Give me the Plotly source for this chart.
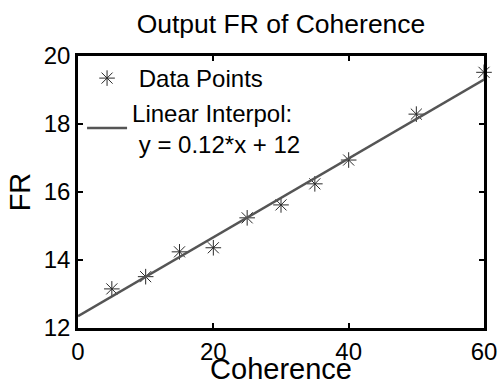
import plotly.graph_objects as go

coherence = [5, 10, 15, 20, 25, 30, 35, 40, 50, 60]
fr = [13.15, 13.51, 14.24, 14.36, 15.24, 15.62, 16.24, 16.94, 18.29, 19.52]
fit_x = [0, 60]
fit_y = [12.35, 19.31]

FONT = "Liberation Sans, Arial, Helvetica, sans-serif"
NB = "\u00a0"

fig = go.Figure()
fig.add_trace(go.Scatter(
    x=coherence, y=fr, mode="markers", name=NB + "Data Points",
    cliponaxis=False,
    marker=dict(symbol="asterisk-open", size=13, color="#2a2a2a",
                line=dict(color="#2a2a2a", width=1)),
))
fig.add_trace(go.Scatter(
    x=fit_x, y=fit_y, mode="lines",
    name="Linear Interpol:<br>" + NB + "y = 0.12*x + 12",
    line=dict(color="#555555", width=2.5),
))

axis_common = dict(
    showline=True, linecolor="black", linewidth=2.5, mirror="ticks",
    ticks="inside", ticklen=5, tickwidth=1.5, tickcolor="black",
    showgrid=False, zeroline=False, automargin=False,
    tickfont=dict(family=FONT, size=24, color="black"),
)

fig.update_layout(
    width=501, height=385,
    margin=dict(l=78, r=17, t=56, b=57),
    paper_bgcolor="white", plot_bgcolor="white",
    title=dict(text="Output FR of Coherence", xref="paper", x=0.5, xanchor="center",
               yref="container", y=0.938, yanchor="middle",
               font=dict(family=FONT, size=26.5, color="black")),
    xaxis=dict(range=[0, 60], tickvals=[0, 20, 40, 60],
               title=dict(text="Coherence", standoff=1,
                          font=dict(family=FONT, size=29, color="black")),
               **axis_common),
    yaxis=dict(range=[12, 20], tickvals=[12, 14, 16, 18, 20],
               title=dict(text="FR", standoff=5,
                          font=dict(family=FONT, size=29, color="black")),
               **axis_common),
    legend=dict(x=0.01, y=1.0, xanchor="left", yanchor="top",
                bgcolor="rgba(0,0,0,0)", borderwidth=0,
                itemwidth=40, valign="middle",
                font=dict(family=FONT, size=24, color="black")),
    showlegend=True,
)

fig.write_html(
    "out.html",
    config={"displayModeBar": False},
    post_script="document.body.style.margin='0';document.body.style.overflow='hidden';",
)
